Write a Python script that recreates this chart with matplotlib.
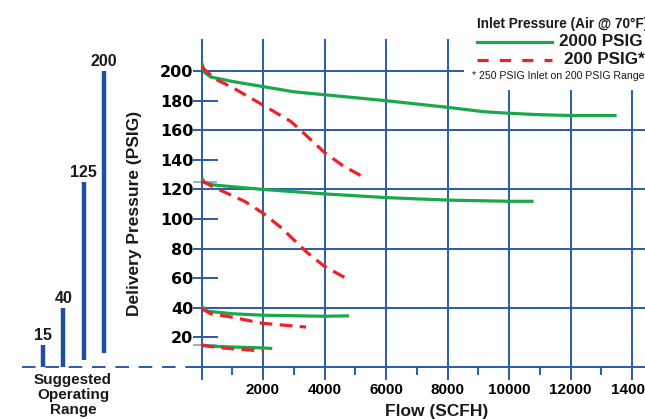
import matplotlib
matplotlib.use("Agg")
import matplotlib.pyplot as plt
from matplotlib.lines import Line2D
import numpy as np

plt.rcParams.update({
    "font.family": ["Liberation Sans", "DejaVu Sans"],
    "font.weight": "bold",
})

# ---- data ---------------------------------------------------------------
range_vals = [15, 40, 125, 200]
range_base = [0, 0, 4.5, 9.5]

g200_flow = [0, 100, 300, 1000, 2000, 3000, 4000, 6000, 8000, 9200, 10000, 11000, 12000, 13500]
g200_p    = [206, 199, 196, 193, 189.5, 186, 184, 180, 175.5, 172.5, 171.5, 170.5, 170, 170]
r200_flow = [0, 200, 500, 1000, 2000, 2900, 3200, 4000, 4600, 5300]
r200_p    = [203, 199, 194, 189, 177, 166, 160.5, 145, 136, 128]

g125_flow = [0, 100, 400, 2000, 4000, 6000, 8000, 10000, 10800]
g125_p    = [128, 124.5, 123, 120, 117, 114.5, 112.8, 112, 112]
r125_flow = [0, 400, 1400, 2000, 2600, 3400, 4000, 4700]
r125_p    = [126, 121.5, 112, 104, 94, 78, 68, 60]

g40_flow = [0, 200, 1000, 2000, 4000, 4800]
g40_p    = [41, 37.7, 36, 35, 34.3, 34.6]
r40_flow = [0, 300, 900, 2000, 3400]
r40_p    = [39.5, 36, 34, 29.5, 27]

g15_flow = [0, 300, 2000, 2300]
g15_p    = [15, 14, 12.9, 12.5]
r15_flow = [0, 600, 2000]
r15_p    = [14.7, 13, 10.8]

x_ticks = [2000, 4000, 6000, 8000, 10000, 12000, 14000]
y_ticks = [20, 40, 60, 80, 100, 120, 140, 160, 180, 200]

# ---- style --------------------------------------------------------------
W, H = 645, 419
BLUE = "#2b5ba8"
BAR = "#1f4e9e"
LIGHT = "#7d9fd6"
GREEN = "#19a84a"
RED = "#ee2128"
INK = "#1a1a1a"

def fx(px):
    return px / W

def fy(py):
    return 1 - py / H

fig = plt.figure(figsize=(6.45, 4.19), dpi=100)

x0_px, y_top_px, y_bot_px = 201.5, 40, 379
ax = fig.add_axes([fx(x0_px), fy(y_bot_px), 1 - fx(x0_px), fy(y_top_px) - fy(y_bot_px)])
xmax = (W - x0_px) / 0.03075
ax.set_xlim(0, xmax)
ax.set_ylim(-8.1, 221)
for s in ax.spines.values():
    s.set_visible(False)

# grid
for xv in range(0, 16000, 2000):
    top = 221 if xv <= 8000 else 186.5
    ax.plot([xv, xv], [-8.1, top], color=BLUE, lw=1.4, clip_on=False, zorder=1)
for xv in range(1000, 14000, 2000):
    ax.plot([xv, xv], [-4.5, 0], color=BLUE, lw=1.4, zorder=1)
ax.plot([-250, xmax], [0, 0], color=BLUE, lw=1.4, clip_on=False, zorder=1)
for yv in y_ticks:
    if yv == 200:
        ax.plot([-250, 8500], [yv, yv], color=BLUE, lw=1.4, clip_on=False, zorder=1)
    elif yv % 40 == 0:
        ax.plot([-250, xmax], [yv, yv], color=BLUE, lw=1.4, clip_on=False, zorder=1)
    else:
        ax.plot([-250, 490], [yv, yv], color=BLUE, lw=1.4, clip_on=False, zorder=1)
for v in range_vals:
    ax.plot([-250, 480], [v, v], color=LIGHT, lw=1.2, clip_on=False, zorder=0.9)

# curves
dash = (4, 2.3)
for xs, ys in [(g200_flow, g200_p), (g125_flow, g125_p), (g40_flow, g40_p), (g15_flow, g15_p)]:
    ax.plot(xs, ys, color=GREEN, lw=2.3, solid_capstyle="butt", zorder=3)
for xs, ys in [(r200_flow, r200_p), (r125_flow, r125_p), (r40_flow, r40_p), (r15_flow, r15_p)]:
    ax.plot(xs, ys, color=RED, lw=2.3, dashes=dash, zorder=4)

ax.set_xticks(x_ticks)
ax.set_xticklabels([str(v) for v in x_ticks], fontsize=11, fontweight="bold")
ax.tick_params(axis="x", length=0, pad=3)
ax.set_yticks(y_ticks)
ax.set_yticklabels([str(v) for v in y_ticks], fontsize=11.5, fontweight="bold",
                   family="DejaVu Sans")
ax.tick_params(axis="y", length=0, pad=6)

# ---- suggested range bars ------------------------------------------------
axb = fig.add_axes([0, fy(y_bot_px), fx(x0_px), fy(y_top_px) - fy(y_bot_px)])
axb.set_xlim(-43 / 20.3, (x0_px - 43) / 20.3)
axb.set_ylim(-8.1, 221)
axb.axis("off")
pos = np.arange(len(range_vals))
axb.vlines(pos, range_base, range_vals, color=BAR, lw=3.2)
for i, v in zip(pos, range_vals):
    axb.text(i, v + 1.5, str(v), ha="center", va="bottom", fontsize=11.5,
             fontweight="bold", color=INK)
axb.plot([1.1 - 2.118, 7.808], [0, 0], color=BLUE, lw=1.4, dashes=(7, 5))

fig.text(fx(73), fy(395), "Suggested\nOperating\nRange", ha="center", va="center",
         fontsize=11, fontweight="bold", linespacing=1.08, color=INK)
fig.text(fx(135), fy(213), "Delivery Pressure (PSIG)", rotation=90, ha="center",
         va="center", fontsize=12.5, fontweight="bold", color=INK)
fig.text(fx(437), fy(411), "Flow (SCFH)", ha="center", va="center",
         fontsize=12.5, fontweight="bold", color=INK)

# ---- legend --------------------------------------------------------------
fig.text(fx(477), fy(24), "Inlet Pressure (Air @ 70°F)", ha="left", va="center",
         fontsize=9.8, fontweight="bold", color=INK)
fig.add_artist(Line2D([fx(477), fx(552)], [fy(42), fy(42)], color=GREEN, lw=2.3))
fig.add_artist(Line2D([fx(477), fx(552)], [fy(60), fy(60)], color=RED, lw=2.3,
                      dashes=(3.5, 3.5)))
fig.text(fx(559), fy(42), "2000 PSIG", ha="left", va="center", fontsize=12.3,
         fontweight="bold", color=INK)
fig.text(fx(564), fy(60), "200 PSIG*", ha="left", va="center", fontsize=12.3,
         fontweight="bold", color=INK)
fig.text(fx(472), fy(76), "* 250 PSIG Inlet on 200 PSIG Range", ha="left", va="center",
         fontsize=7.6, fontweight="normal", color=INK)

fig.savefig("out.png", dpi=100)
